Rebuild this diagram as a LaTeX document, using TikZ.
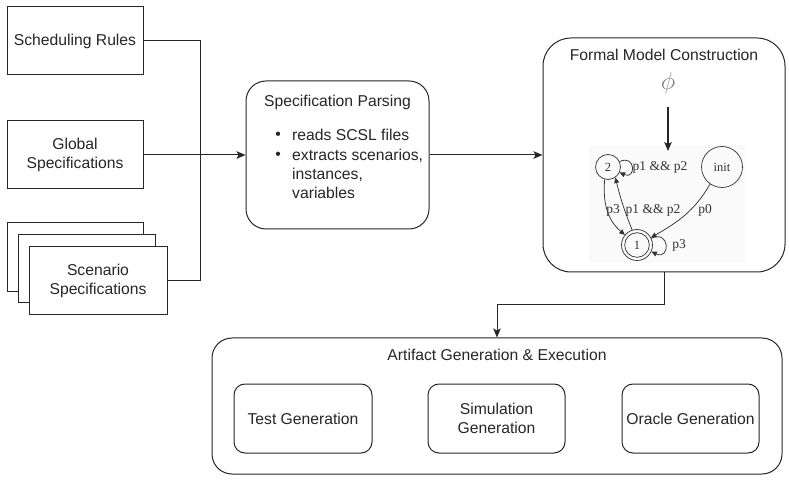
\documentclass[tikz,border=0pt]{standalone}
\usepackage{fontspec}
\setmainfont{Liberation Sans}
\newfontfamily\autfont{Liberation Serif}
\usetikzlibrary{arrows.meta}
\newcommand\mfs{\fontsize{15.7}{19}\selectfont}
\begin{document}
\begin{tikzpicture}[x=1pt,y=1pt,
  box/.style={draw=black!85, line width=1pt, fill=white, inner sep=0pt, align=center, font=\mfs, text=black!85},
  rbox/.style={box, rounded corners=#1},
  txt/.style={inner sep=0pt, font=\mfs, text=black!85, align=left},
  arr/.style={line width=1pt, draw=black!85, -{Stealth[length=9pt,width=7.5pt,inset=2pt]}},
  conn/.style={line width=1pt, draw=black!85},
  st/.style={draw=black!80, line width=0.7pt, circle, inner sep=0pt, font=\autfont\fontsize{12.5}{14}\selectfont, text=black!80},
  aedge/.style={draw=black!80, line width=0.75pt, -{Triangle[length=5.5pt,width=5pt]}},
  alab/.style={inner sep=0pt, font=\autfont\fontsize{13.5}{15}\selectfont, text=black!80}
]
\useasboundingbox (0,0) rectangle (789,482);

% left inputs
\node[box, minimum width=136pt, minimum height=68pt] (sched) at (75,441) {Scheduling Rules};
\node[box, minimum width=136pt, minimum height=68pt] (global) at (75,327) {Global\\Specifications};
\node[box, minimum width=136pt, minimum height=69pt] (scA) at (75,224.5) {};
\node[box, minimum width=137pt, minimum height=68pt] (scB) at (86.5,213) {};
\node[box, minimum width=138pt, minimum height=68pt] (scC) at (98,201) {Scenario\\Specifications};

% specification parsing
\node[rbox=20pt, minimum width=183pt, minimum height=148pt] (parse) at (337.5,327) {};
\node[txt] (ptitle) at (337.5,380) {Specification Parsing};
\node[txt] (b1) at (278,346) {\textbullet};
\node[txt] (b2) at (278,326) {\textbullet};
\node[txt, anchor=mid west] (l1) at (292,344) {reads SCSL files};
\node[txt, anchor=mid west] (l2) at (292,324) {extracts scenarios,};
\node[txt, anchor=mid west] (l3) at (292,305) {instances,};
\node[txt, anchor=mid west] (l4) at (292,286) {variables};

% formal model construction
\node[rbox=28pt, minimum width=242pt, minimum height=234pt] (formal) at (664,327) {};
\node[txt] (ftitle) at (664,427) {Formal Model Construction};
\node[inner sep=0pt, text=black!50, font=\fontsize{28}{30}\selectfont] (phi) at (668,399) {$\phi$};

% automaton
\fill[black!2] (589,219) rectangle (745,337);
\coordinate (phiA) at (668,375);
\coordinate (phiB) at (668,331);
\draw[arr, line width=1.2pt] (phiA) -- (phiB);
\node[st, minimum size=25pt] (s2) at (608,315) {2};
\node[st, minimum size=41pt] (init) at (722,315) {init};
\node[st, minimum size=31pt] (s1) at (637,237) {1};
\draw[black!80, line width=0.7pt] (s1.center) circle (12.3);
\draw[aedge] (s2.25) .. controls +(25:18) and +(-25:18) .. (s2.-25);
\draw[aedge] (s1.25) .. controls +(25:21) and +(-25:21) .. (s1.-25);
\draw[aedge] (s2.255) to[out=-95,in=140] (s1.140);
\draw[aedge] (s1.108) to[bend left=4] (s2.-55);
\draw[aedge] (init.235) to[out=-120,in=30] (s1.28);
\node[alab] (lab1) at (660,315) {p1 \&\& p2};
\node[alab] (lab2) at (613,272) {p3};
\node[alab] (lab3) at (653,272) {p1 \&\& p2};
\node[alab] (lab4) at (705,272) {p0};
\node[alab] (lab5) at (679,237) {p3};

% artifact generation
\node[rbox=20pt, minimum width=570pt, minimum height=136pt] (art) at (497,76) {};
\node[txt] (atitle) at (497,127) {Artifact Generation \& Execution};
\node[rbox=11pt, minimum width=138pt, minimum height=69pt] (test) at (303,63.5) {Test Generation};
\node[rbox=11pt, minimum width=137pt, minimum height=69pt] (sim) at (496.5,63.5) {Simulation\\Generation};
\node[rbox=11pt, minimum width=137pt, minimum height=69pt] (orc) at (690.5,63.5) {Oracle Generation};

% connectors
\coordinate (join) at (200,201);
\draw[conn] (sched.east) -| (join) -- (scC.east);
\draw[arr] (global.east) -- (parse.west);
\draw[arr] (parse.east) -- (formal.west);
\draw[arr] (formal.south) -- ++(0,-32) -| (art.north);
\end{tikzpicture}
\end{document}
